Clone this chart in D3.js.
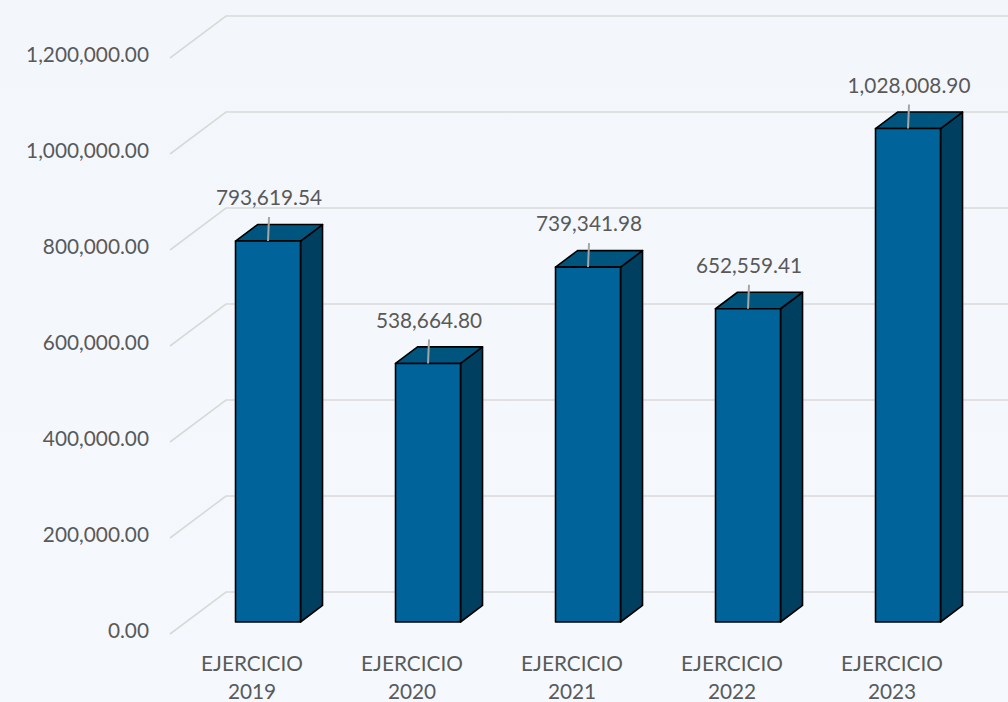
<!DOCTYPE html>
<html><head><meta charset="utf-8">
<script src="https://cdn.jsdelivr.net/npm/d3@7"></script>
<style>
html,body{margin:0;padding:0;background:#F4F8FC;}
svg{display:block;}
text{font-family:Lato,"Open Sans",sans-serif;fill:#595959;}
</style></head>
<body>
<svg id="c" width="1008" height="702"></svg>
<script>
const categories = ["EJERCICIO 2019","EJERCICIO 2020","EJERCICIO 2021","EJERCICIO 2022","EJERCICIO 2023"];
const values = [793619.54, 538664.80, 739341.98, 652559.41, 1028008.90];
const valueLabels = ["793,619.54","538,664.80","739,341.98","652,559.41","1,028,008.90"];
const yTicks = [0, 200000, 400000, 600000, 800000, 1000000, 1200000];
const yTickLabels = ["0.00","200,000.00","400,000.00","600,000.00","800,000.00","1,000,000.00","1,200,000.00"];

const W = 1008, H = 702;
const FS = 20.8;
const svg = d3.select("#c");
const defs = svg.append("defs");
const g = defs.append("linearGradient").attr("id","bg").attr("x1",0).attr("y1",0).attr("x2",0).attr("y2",1);
g.append("stop").attr("offset","0").attr("stop-color","#F3F7FC");
g.append("stop").attr("offset","1").attr("stop-color","#F5F8FC");
svg.append("rect").attr("width",W).attr("height",H).attr("fill","url(#bg)");

// depth geometry
const DX = 56, DY = -42;
const proj = (x, y, f) => [x + f*DX, y + f*DY];

const y = d3.scaleLinear().domain([0,1200000]).range([634,58]);
const x = d3.scaleBand().domain(categories).range([172,972]);

// gridlines
const gl = svg.append("g");
yTicks.forEach(v => {
  const yf = y(v);
  const [bx, by] = proj(170, yf, 1);
  gl.append("path")
    .attr("d", `M170,${yf}L${bx},${by}L${W+5},${by}`)
    .attr("fill","none").attr("stroke","#D9D9D9").attr("stroke-width",1.6);
});

// y tick labels
svg.append("g").selectAll("text").data(yTicks).join("text")
  .attr("x",149).attr("y",d=>y(d)-1).attr("text-anchor","end")
  .attr("dominant-baseline","middle").attr("font-size",FS)
  .text((d,i)=>yTickLabels[i]);

// bars
const f1 = 0.286, f2 = 0.679, bw = 65;
const bars = svg.append("g");
categories.forEach((c,i) => {
  const cx = x(c) + x.bandwidth()/2;
  const xl = cx - bw/2, xr = cx + bw/2;
  const yb = y(0), yt = y(values[i]);
  const F = (xx,yy,f) => proj(xx,yy,f).join(",");
  bars.append("path")
    .attr("d",`M${F(xr,yb,f1)}L${F(xr,yb,f2)}L${F(xr,yt,f2)}L${F(xr,yt,f1)}Z`)
    .attr("fill","#003F60").attr("stroke","#000").attr("stroke-width",1.6).attr("stroke-linejoin","round");
  bars.append("path")
    .attr("d",`M${F(xl,yt,f1)}L${F(xr,yt,f1)}L${F(xr,yt,f2)}L${F(xl,yt,f2)}Z`)
    .attr("fill","#00557F").attr("stroke","#000").attr("stroke-width",1.6).attr("stroke-linejoin","round");
  bars.append("path")
    .attr("d",`M${F(xl,yb,f1)}L${F(xr,yb,f1)}L${F(xr,yt,f1)}L${F(xl,yt,f1)}Z`)
    .attr("fill","#00649A").attr("stroke","#000").attr("stroke-width",1.6).attr("stroke-linejoin","round");
  const [tx, ty] = proj(cx, yt, f1);
  bars.append("line").attr("x1",tx+1).attr("y1",ty-24).attr("x2",tx).attr("y2",ty)
    .attr("stroke","#A6A6A6").attr("stroke-width",2);
  bars.append("text").attr("x",tx+1).attr("y",ty-41).attr("text-anchor","middle")
    .attr("dominant-baseline","middle").attr("font-size",FS).text(valueLabels[i]);
});

// category labels
const cl = svg.append("g");
categories.forEach(c => {
  const parts = c.split(" ");
  const cx = x(c) + x.bandwidth()/2;
  const t = cl.append("text").attr("x",cx).attr("text-anchor","middle").attr("font-size",FS);
  t.append("tspan").attr("x",cx).attr("y",671).text(parts[0]);
  t.append("tspan").attr("x",cx).attr("y",699).text(parts[1]);
});
</script>
</body></html>
